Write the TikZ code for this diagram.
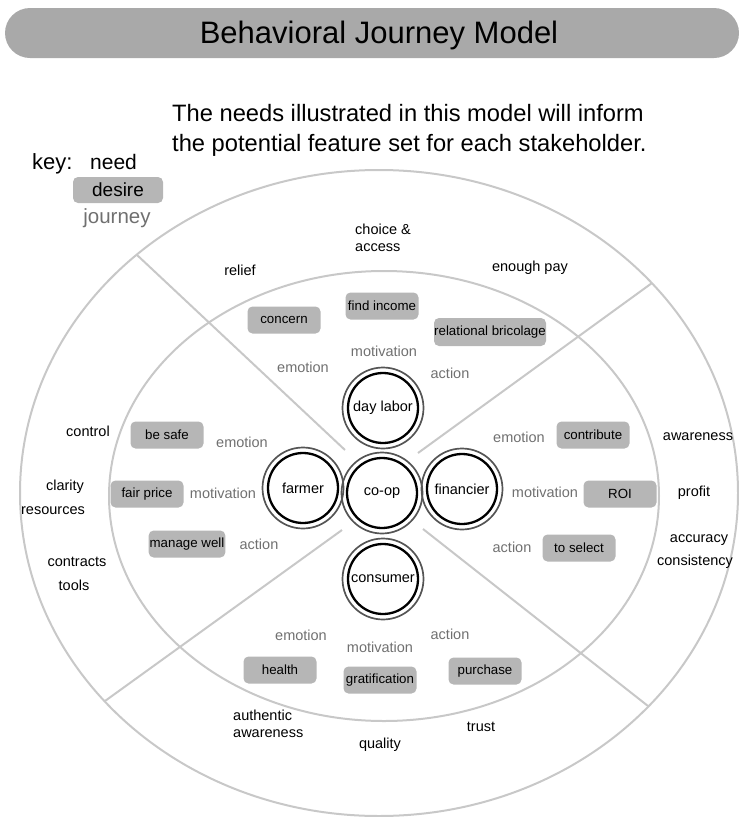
\documentclass[tikz,border=0pt]{standalone}
\usepackage{fontspec}
\setmainfont{Liberation Sans}
\definecolor{barg}{HTML}{A9A9A9}
\definecolor{boxg}{HTML}{B6B6B6}
\definecolor{lineg}{HTML}{C8C8C8}
\definecolor{txtg}{HTML}{707070}
\definecolor{ringg}{HTML}{555555}
\begin{document}
\begin{tikzpicture}[x=1pt,y=-1pt,
  needlbl/.style={font=\fontsize{14.5}{17}\selectfont, inner sep=0pt},
  jourlbl/.style={font=\fontsize{14.5}{17}\selectfont, text=txtg, inner sep=0pt},
  desirebox/.style={fill=boxg, rounded corners=5pt, minimum width=73pt, minimum height=27pt, inner sep=1pt, font=\fontsize{13.3}{15}\selectfont},
  stake/.style={circle, minimum size=70pt, draw=black, line width=2.3pt, fill=white, font=\fontsize{14.5}{17}\selectfont, inner sep=0pt},
  outerring/.style={draw=ringg, line width=1.7pt},
  divider/.style={draw=lineg, line width=2pt},
  ringline/.style={draw=lineg, line width=2pt}
]
\useasboundingbox (0,0) rectangle (739,817);
% title bar
\fill[barg, rounded corners=25pt] (5,8) rectangle (739,58);
\node[anchor=base, font=\fontsize{31}{36}\selectfont, inner sep=0pt] (title) at (379,43) {Behavioral Journey Model};
% subtitle
\node[anchor=base west, font=\fontsize{23.7}{28}\selectfont, inner sep=0pt] (sub1) at (172,121) {The needs illustrated in this model will inform};
\node[anchor=base west, font=\fontsize{23.7}{28}\selectfont, inner sep=0pt] (sub2) at (172,151) {the potential feature set for each stakeholder.};
% key
\node[anchor=base west, font=\fontsize{22}{26}\selectfont, inner sep=0pt] (keylbl) at (32,169) {key:};
\node[anchor=base west, font=\fontsize{21}{25}\selectfont, inner sep=0pt] (keyneed) at (90,169) {need};
\node[fill=boxg, rounded corners=5pt, minimum width=90pt, minimum height=26pt, inner sep=1pt, font=\fontsize{19}{22}\selectfont] (keydesire) at (118,190) {desire};
\node[font=\fontsize{20.5}{24}\selectfont, text=txtg, inner sep=0pt] (keyjourney) at (117,218) {journey};

% ellipses
\draw[ringline] (379,493) ellipse[x radius=359pt, y radius=323pt];
\draw[ringline] (384,496) ellipse[x radius=275pt, y radius=225pt];

% dividers
\coordinate (ulo) at (137,255); \coordinate (uli) at (345,450);
\coordinate (uro) at (652,283); \coordinate (uri) at (418,453);
\coordinate (llo) at (105,701); \coordinate (lli) at (342,530);
\coordinate (lro) at (648,706); \coordinate (lri) at (423,529);
\draw[divider] (uli) -- (ulo);
\draw[divider] (uri) -- (uro);
\draw[divider] (lli) -- (llo);
\draw[divider] (lri) -- (lro);

% stakeholder circles
\node[stake] (coop) at (382,493) {co-op};
\node[stake] (day) at (383,408) {day labor};
\node[stake] (farmer) at (303,488) {farmer};
\node[stake] (fin) at (462,489) {financier};
\node[stake] (cons) at (383,579) {consumer};
\foreach \n in {coop,day,farmer,fin,cons}
  \draw[outerring] (\n.center) circle[radius=40.5pt];

% needs (outer ring)
\node[needlbl, anchor=west, align=left] (choice) at (355,238) {choice \&\\access};
\node[needlbl] (relief) at (240,270) {relief};
\node[needlbl] (pay) at (530,268) {enough pay};
\node[needlbl] (control) at (88,431) {control};
\node[needlbl] (clarity) at (65,487) {clarity};
\node[needlbl] (resources) at (53,511) {resources};
\node[needlbl] (contracts) at (77,562) {contracts};
\node[needlbl] (tools) at (74,585) {tools};
\node[needlbl] (aware) at (698,437) {awareness};
\node[needlbl] (profit) at (694,493) {profit};
\node[needlbl] (accuracy) at (699,540) {accuracy};
\node[needlbl] (consist) at (695,562) {consistency};
\node[needlbl, anchor=west, align=left] (authentic) at (233,724) {authentic\\awareness};
\node[needlbl] (quality) at (380,745) {quality};
\node[needlbl] (trust) at (481,727) {trust};

% journey labels
\node[jourlbl] (j1) at (384,351) {motivation};
\node[jourlbl] (j2) at (303,367) {emotion};
\node[jourlbl] (j3) at (450,373) {action};
\node[jourlbl] (j4) at (242,442) {emotion};
\node[jourlbl] (j5) at (223,493) {motivation};
\node[jourlbl] (j6) at (259,544) {action};
\node[jourlbl] (j7) at (519,437) {emotion};
\node[jourlbl] (j8) at (545,492) {motivation};
\node[jourlbl] (j9) at (512,547) {action};
\node[jourlbl] (j10) at (301,635) {emotion};
\node[jourlbl] (j11) at (380,647) {motivation};
\node[jourlbl] (j12) at (450,634) {action};

% desires
\node[desirebox] (concern) at (284,320) {concern};
\node[desirebox] (income) at (382,306) {find income};
\node[desirebox, minimum width=112pt, minimum height=28pt, inner sep=0pt] (bricolage) at (490,332) {relational bricolage};
\node[desirebox] (safe) at (167,435) {be safe};
\node[desirebox] (fair) at (147,494) {fair price};
\node[desirebox] (manage) at (187,544) {manage well};
\node[desirebox] (contribute) at (593,435) {contribute};
\node[desirebox] (roi) at (620,494) {ROI};
\node[desirebox] (select) at (579,548) {to select};
\node[desirebox] (health) at (280,670) {health};
\node[desirebox] (grat) at (380,680) {gratification};
\node[desirebox] (purchase) at (485,671) {purchase};
\end{tikzpicture}
\end{document}
